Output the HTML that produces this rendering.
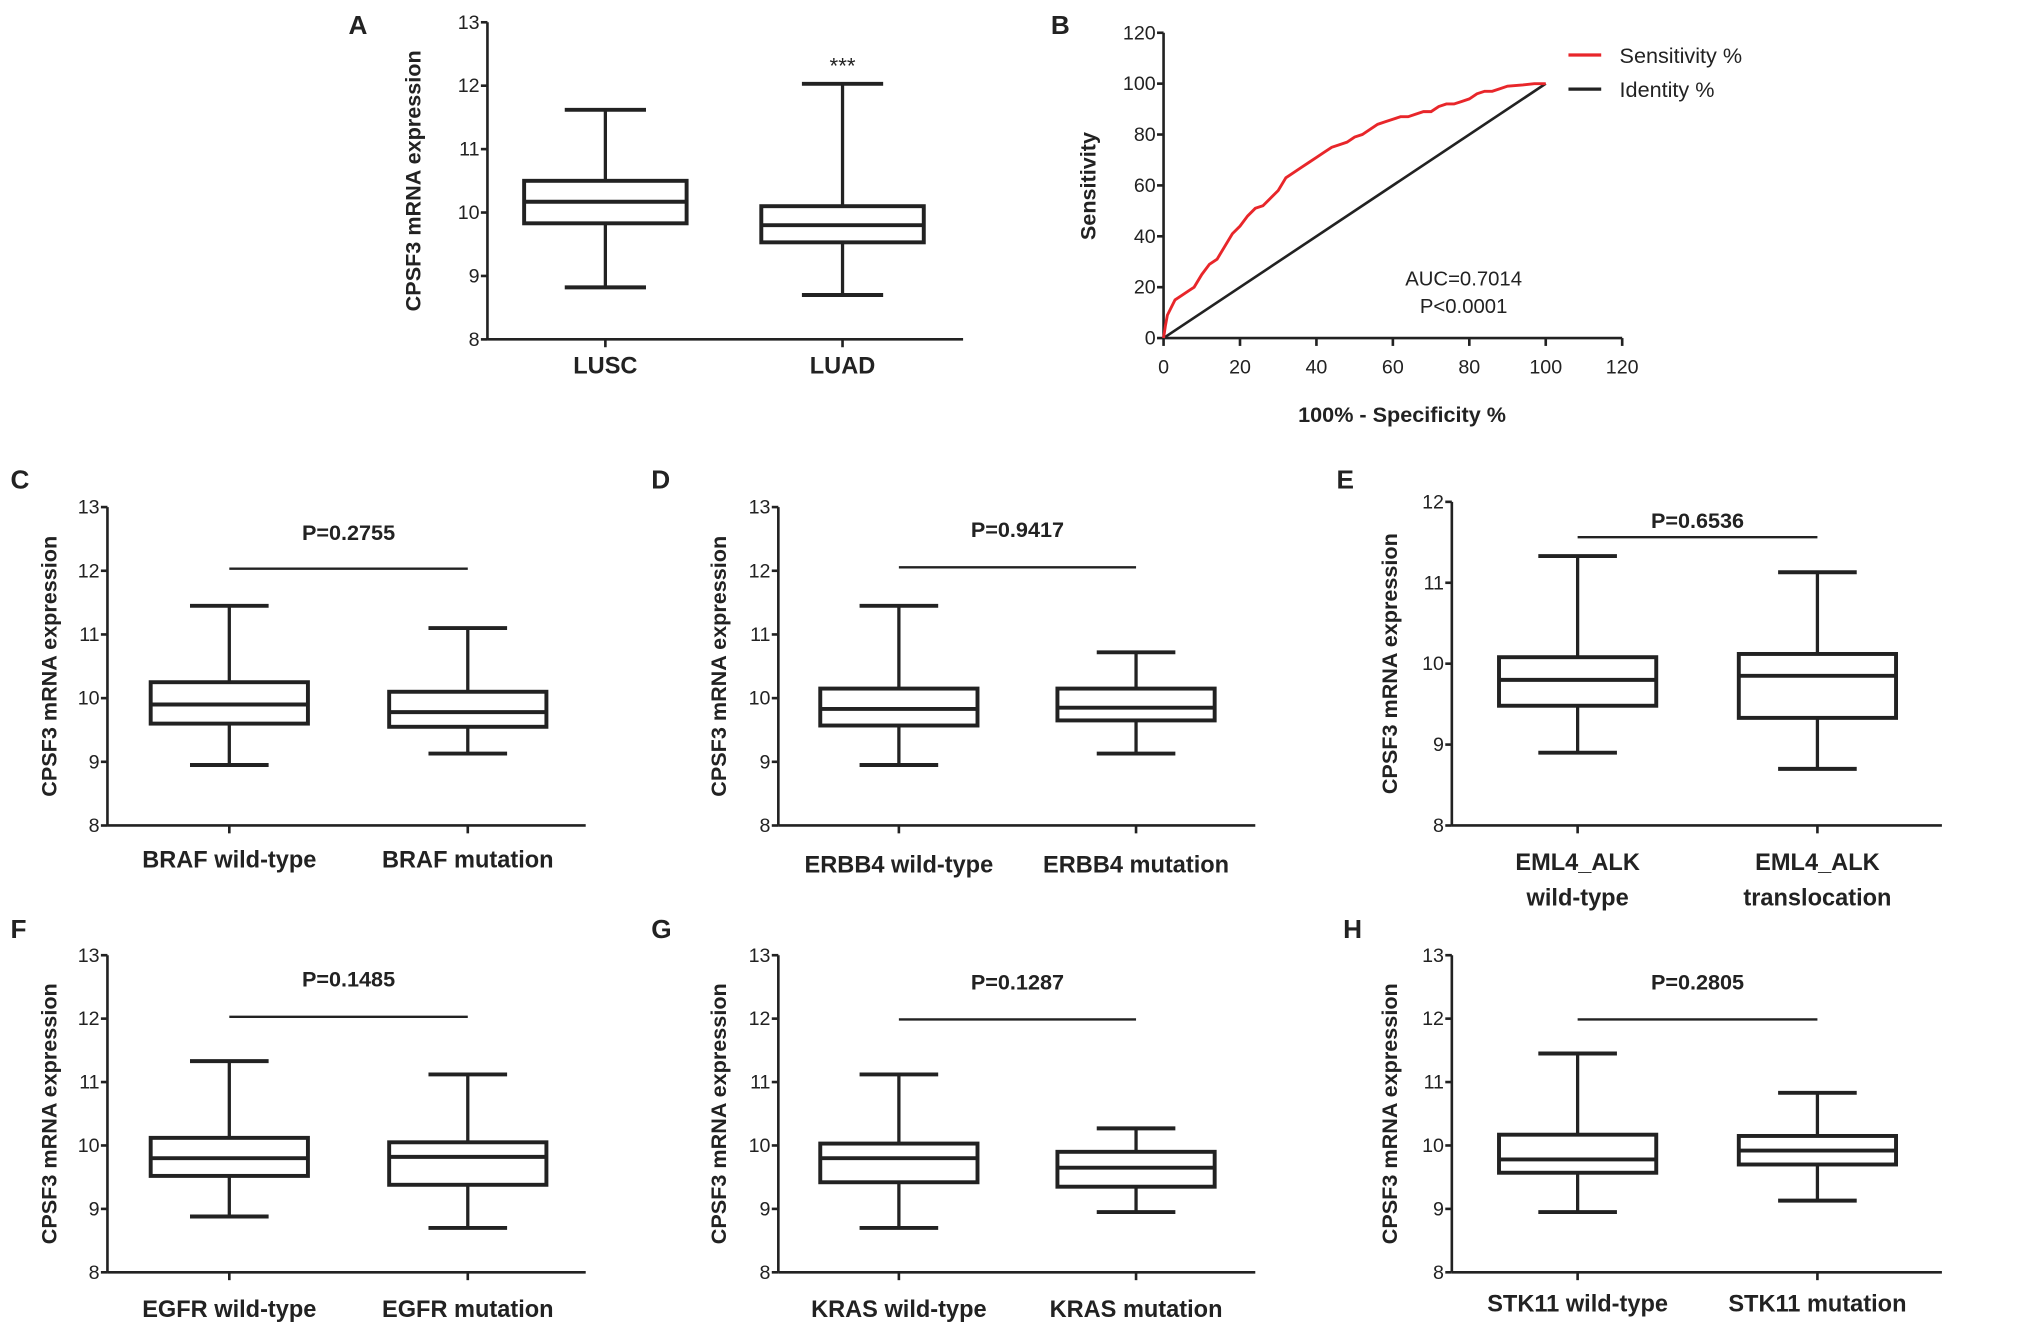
<!DOCTYPE html>
<html><head><meta charset="utf-8"><style>
html,body{margin:0;padding:0;background:#fff;}
svg{display:block;}
text{font-family:"Liberation Sans",Arial,sans-serif;fill:#222;}
.b{font-weight:bold;}
</style></head><body>
<svg id="fig" width="2031" height="1328" viewBox="0 0 1550 1013.5" preserveAspectRatio="none" xmlns="http://www.w3.org/2000/svg"></svg>
<script>
// ---- Panel A data ----
const aCategories = ["LUSC", "LUAD"];
const aMin = [8.82, 8.70];
const aQ1 = [9.83, 9.53];
const aMed = [10.17, 9.80];
const aQ3 = [10.50, 10.10];
const aMax = [11.62, 12.03];
// ---- Panel B ROC data ----
const rocX = [0,0.5,1,2,3,5,7,8,10,12,14,16,18,20,22,24,26,28,30,32,34,36,38,40,42,44,46,48,50,52,54,56,58,60,62,64,66,68,70,72,74,76,78,80,82,84,86,88,90,94,97,100];
const rocY = [0,5,9,12,15,17,19,20,25,29,31,36,41,44,48,51,52,55,58,63,65,67,69,71,73,75,76,77,79,80,82,84,85,86,87,87,88,89,89,91,92,92,93,94,96,97,97,98,99,99.5,100,100];
const rocTicks = [0,20,40,60,80,100,120];
// ---- Lower panels data ----
const cCategories = [["BRAF wild-type"],["BRAF mutation"]];
const cMin=[8.95,9.13], cQ1=[9.60,9.55], cMed=[9.90,9.78], cQ3=[10.25,10.10], cMax=[11.45,11.10];
const dCategories = [["ERBB4 wild-type"],["ERBB4 mutation"]];
const dMin=[8.95,9.13], dQ1=[9.57,9.65], dMed=[9.83,9.85], dQ3=[10.15,10.15], dMax=[11.45,10.72];
const eCategories = [["EML4_ALK","wild-type"],["EML4_ALK","translocation"]];
const eMin=[8.90,8.70], eQ1=[9.48,9.33], eMed=[9.80,9.85], eQ3=[10.08,10.12], eMax=[11.33,11.13];
const fCategories = [["EGFR wild-type"],["EGFR mutation"]];
const fMin=[8.88,8.70], fQ1=[9.52,9.38], fMed=[9.80,9.82], fQ3=[10.12,10.05], fMax=[11.33,11.12];
const gCategories = [["KRAS wild-type"],["KRAS mutation"]];
const gMin=[8.70,8.95], gQ1=[9.42,9.35], gMed=[9.80,9.65], gQ3=[10.03,9.90], gMax=[11.12,10.27];
const hCategories = [["STK11 wild-type"],["STK11 mutation"]];
const hMin=[8.95,9.13], hQ1=[9.57,9.70], hMed=[9.78,9.92], hQ3=[10.17,10.15], hMax=[11.45,10.83];
const pValues = ["P=0.2755","P=0.9417","P=0.6536","P=0.1485","P=0.1287","P=0.2805"];
const lowTicks = [8,9,10,11,12,13];
const eTicks = [8,9,10,11,12];

const svg = document.getElementById('fig');
const NS = 'http://www.w3.org/2000/svg';
function mk(tag, attrs, parent, txt){
  const e = document.createElementNS(NS, tag);
  for (const k in attrs) e.setAttribute(k, attrs[k]);
  if (txt !== undefined) e.textContent = txt;
  (parent || svg).appendChild(e);
  return e;
}
function line(g,x1,y1,x2,y2,w,c){ return mk('line',{x1,y1,x2,y2,stroke:c||'#222','stroke-width':w||2},g); }

function boxPanel(o){
  const g = mk('g',{});
  
  
  const lo=o.ticks[0], hi=o.ticks[o.ticks.length-1];
  const y = v => o.y0 - (v-lo)*(o.y0-o.y1)/(hi-lo);
  // axes
  const ya = line(g,o.ax,o.y1,o.ax,o.y0,2);
   
  const xa = line(g,o.ax,o.y0,o.xEnd,o.y0,2);
   
  o.ticks.forEach(t=>{
    line(g,o.ax-5,y(t),o.ax,y(t),2);
    const tl = mk('text',{x:o.ax-6,y:y(t)+5,'text-anchor':'end','font-size':15},g,String(t));
     
  });
  const yt = mk('text',{x:0,y:0,'text-anchor':'middle','font-size':16.5,'class':'b',transform:`translate(${o.titleX},${(o.y0+o.y1)/2}) rotate(-90)`},g,'CPSF3 mRNA expression');
   
  const pl = mk('text',{x:o.labelX,y:o.labelY,'font-size':20,'class':'b'},g,o.label);
   
  o.cx.forEach((cx,i)=>{
    const bg = mk('g',{},g);
    
    
    const hw=o.bw/2, cw=o.bw/4;
    line(bg,cx,y(o.max[i]),cx,y(o.q3[i]),2.5);
    line(bg,cx,y(o.q1[i]),cx,y(o.min[i]),2.5);
    line(bg,cx-cw,y(o.max[i]),cx+cw,y(o.max[i]),3);
    line(bg,cx-cw,y(o.min[i]),cx+cw,y(o.min[i]),3);
    mk('rect',{x:cx-hw,y:y(o.q3[i]),width:o.bw,height:y(o.q1[i])-y(o.q3[i]),fill:'none',stroke:'#222','stroke-width':3},bg);
    line(bg,cx-hw,y(o.med[i]),cx+hw,y(o.med[i]),3);
    line(g,cx,o.y0,cx,o.y0+6,2);
    o.cats[i].forEach((s,k)=>{
      const cl = mk('text',{x:cx,y:o.catY+k*27,'text-anchor':'middle','font-size':18,'class':'b'},g,s);
       
    });
  });
  if (o.p){
    const sb = line(g,o.cx[0],o.pLineY,o.cx[1],o.pLineY,1.8);
     
    const pt = mk('text',{x:(o.cx[0]+o.cx[1])/2,y:o.pTextY,'text-anchor':'middle','font-size':16.5,'class':'b'},g,o.p);
     
  }
  if (o.star){
    const st = mk('text',{x:o.cx[1],y:56,'text-anchor':'middle','font-size':17,fill:'#444'},g,'***');
     
  }
}

// Panel A
boxPanel({name:'panel-a',label:'A',labelX:266,labelY:26,ax:372,xEnd:735,y0:259,y1:17,ticks:[8,9,10,11,12,13],
  titleX:321,cx:[462,643],bw:124,cats:aCategories.map(c=>[c]),catY:285,
  min:aMin,q1:aQ1,med:aMed,q3:aQ3,max:aMax,star:true});

// Lower panels
const lower = [
 {name:'panel-c',label:'C',labelX:8,labelY:373,ax:82,xEnd:447,y0:630,y1:387,ticks:lowTicks,titleX:43,cx:[175,357],cats:cCategories,catY:662,min:cMin,q1:cQ1,med:cMed,q3:cQ3,max:cMax,p:pValues[0],pLineY:434,pTextY:412},
 {name:'panel-d',label:'D',labelX:497,labelY:373,ax:594,xEnd:958,y0:630,y1:387,ticks:lowTicks,titleX:554,cx:[686,867],cats:dCategories,catY:666,min:dMin,q1:dQ1,med:dMed,q3:dQ3,max:dMax,p:pValues[1],pLineY:433,pTextY:410},
 {name:'panel-e',label:'E',labelX:1020,labelY:373,ax:1108,xEnd:1482,y0:630,y1:383,ticks:eTicks,titleX:1066,cx:[1204,1387],cats:eCategories,catY:664,min:eMin,q1:eQ1,med:eMed,q3:eQ3,max:eMax,p:pValues[2],pLineY:410,pTextY:403},
 {name:'panel-f',label:'F',labelX:8,labelY:716,ax:82,xEnd:447,y0:971,y1:729,ticks:lowTicks,titleX:43,cx:[175,357],cats:fCategories,catY:1005,min:fMin,q1:fQ1,med:fMed,q3:fQ3,max:fMax,p:pValues[3],pLineY:776,pTextY:753},
 {name:'panel-g',label:'G',labelX:497,labelY:716,ax:594,xEnd:958,y0:971,y1:729,ticks:lowTicks,titleX:554,cx:[686,867],cats:gCategories,catY:1005,min:gMin,q1:gQ1,med:gMed,q3:gQ3,max:gMax,p:pValues[4],pLineY:778,pTextY:755},
 {name:'panel-h',label:'H',labelX:1025,labelY:716,ax:1108,xEnd:1482,y0:971,y1:729,ticks:lowTicks,titleX:1066,cx:[1204,1387],cats:hCategories,catY:1001,min:hMin,q1:hQ1,med:hMed,q3:hQ3,max:hMax,p:pValues[5],pLineY:778,pTextY:755}
];
lower.forEach(o=>{ o.bw=120; boxPanel(o); });

// Panel B ROC
(function(){
  const g = mk('g',{});
  
  
  const X = v => 888 + v*(1238-888)/120;
  const Y = v => 258 - v*(258-25)/120;
  const ya = line(g,X(0),Y(120),X(0),Y(0),2);
   
  const xa = line(g,X(0),Y(0),X(120),Y(0),2);
   
  rocTicks.forEach(t=>{
    line(g,X(0)-5,Y(t),X(0),Y(t),2);
    const yl = mk('text',{x:X(0)-6,y:Y(t)+5,'text-anchor':'end','font-size':15},g,String(t));
     
    line(g,X(t),Y(0),X(t),Y(0)+6,2);
    const xl = mk('text',{x:X(t),y:Y(0)+27,'text-anchor':'middle','font-size':15},g,String(t));
     
  });
  const idl = line(g,X(0),Y(0),X(100),Y(100),2,'#222');
   
  const pts = rocX.map((v,i)=>X(v)+','+Y(rocY[i])).join(' ');
  const rl = mk('polyline',{points:pts,fill:'none',stroke:'#e8262a','stroke-width':2.2},g);
   
  const lb = mk('text',{x:802,y:26,'font-size':20,'class':'b'},g,'B');
   
  const yt = mk('text',{x:0,y:0,'text-anchor':'middle','font-size':16.5,'class':'b',transform:'translate(836,142) rotate(-90)'},g,'Sensitivity');
   
  const xt = mk('text',{x:1070,y:322,'text-anchor':'middle','font-size':16.5,'class':'b'},g,'100%  - Specificity %');
   
  const a1 = mk('text',{x:1117,y:218,'text-anchor':'middle','font-size':15.5,fill:'#444'},g,'AUC=0.7014');
   
  const a2 = mk('text',{x:1117,y:239,'text-anchor':'middle','font-size':15.5,fill:'#444'},g,'P<0.0001');
   
  const l1 = mk('g',{},g);
   
  line(l1,1197,42,1222,42,2.5,'#e8262a');
  mk('text',{x:1236,y:48,'font-size':16.5,fill:'#444'},l1,'Sensitivity %');
  const l2 = mk('g',{},g);
   
  line(l2,1197,68,1222,68,2.5,'#222');
  mk('text',{x:1236,y:74,'font-size':16.5,fill:'#444'},l2,'Identity %');
})();
</script>
</body></html>
